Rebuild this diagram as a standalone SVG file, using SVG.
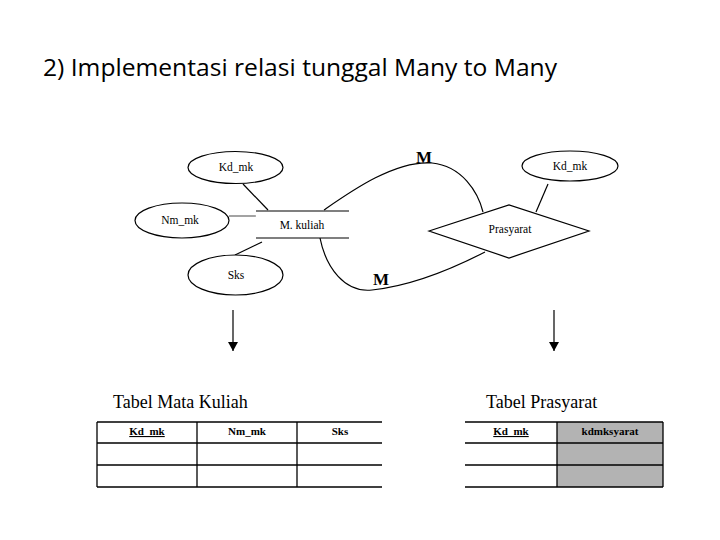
<svg xmlns="http://www.w3.org/2000/svg" width="720" height="540" viewBox="0 0 720 540">
<style>
.ln{stroke:#000;stroke-width:1.2;fill:none}
.el{stroke:#000;stroke-width:1.2;fill:#fff}
.t{font-family:"Liberation Serif","DejaVu Serif",serif;font-size:11.5px;fill:#000;text-anchor:middle}
.m{font-family:"Liberation Serif","DejaVu Serif",serif;font-size:17px;font-weight:bold;fill:#000;text-anchor:middle}
.tt{font-family:"Liberation Serif","DejaVu Serif",serif;font-size:18px;fill:#000}
.h{font-family:"Liberation Serif","DejaVu Serif",serif;font-size:11px;font-weight:bold;fill:#000;text-anchor:middle}
.tb{stroke:#000;stroke-width:1.3;fill:none}
</style>
<defs>
<marker id="ah" markerWidth="10" markerHeight="10" refX="9" refY="5" orient="auto" markerUnits="userSpaceOnUse">
<path d="M0,0 L9,5 L0,10 Z" fill="#000"/>
</marker>
</defs>
<rect width="720" height="540" fill="#fff"/>
<text x="43" y="76" font-family="'Open Sans','Noto Sans',sans-serif" font-size="24" fill="#000" textLength="514" lengthAdjust="spacingAndGlyphs">2) Implementasi relasi tunggal Many to Many</text>

<g id="connectors">
<line class="ln" x1="243" y1="184" x2="268" y2="210"/>
<line x1="229" y1="216" x2="256" y2="216" stroke="#666" stroke-width="1.2"/>
<line class="ln" x1="262" y1="242" x2="235" y2="255"/>
<line class="ln" x1="548" y1="184" x2="536" y2="212"/>
<path class="ln" d="M324,210 C350,192 395,160 432,163 C462,166 478,192 483,212"/>
<path class="ln" d="M320,238 C326,268 345,293 372,290 C410,286 450,270 485,252"/>
<line class="ln" x1="233" y1="310" x2="233" y2="351" marker-end="url(#ah)"/>
<line class="ln" x1="554" y1="310" x2="554" y2="351" marker-end="url(#ah)"/>
</g>

<g id="m1"><text class="m" x="424" y="163">M</text></g>
<g id="m2"><text class="m" x="381" y="285">M</text></g>

<g id="attr-kdmk1">
<ellipse class="el" cx="235.5" cy="167.5" rx="47.5" ry="16"/>
<text class="t" x="236" y="171">Kd_mk</text>
</g>
<g id="attr-nmmk">
<ellipse class="el" cx="182" cy="220.5" rx="47" ry="17.5"/>
<text class="t" x="180" y="224">Nm_mk</text>
</g>
<g id="attr-sks">
<ellipse class="el" cx="235.5" cy="275" rx="47.5" ry="20"/>
<text class="t" x="236" y="279">Sks</text>
</g>
<g id="entity-mkuliah">
<line class="ln" x1="256" y1="211" x2="349" y2="211"/>
<line class="ln" x1="256" y1="238" x2="349" y2="238"/>
<text class="t" x="302" y="229">M. kuliah</text>
</g>
<g id="attr-kdmk2">
<ellipse class="el" cx="570" cy="166" rx="48" ry="15"/>
<text class="t" x="570" y="170">Kd_mk</text>
</g>
<g id="rel-prasyarat">
<polygon class="el" points="429,231 509,205 589,231 509,258"/>
<text class="t" x="510" y="233">Prasyarat</text>
</g>

<g id="tabel-matakuliah">
<text class="tt" x="113" y="408">Tabel Mata Kuliah</text>
<line class="tb" x1="97" y1="422" x2="382" y2="422"/>
<line class="tb" x1="97" y1="443" x2="382" y2="443"/>
<line class="tb" x1="97" y1="465" x2="382" y2="465"/>
<line class="tb" x1="97" y1="487" x2="382" y2="487"/>
<line class="tb" x1="97" y1="422" x2="97" y2="487"/>
<line class="tb" x1="197" y1="422" x2="197" y2="487"/>
<line class="tb" x1="297" y1="422" x2="297" y2="487"/>
<text class="h" x="147" y="435" text-decoration="underline">Kd_mk</text>
<text class="h" x="247" y="435">Nm_mk</text>
<text class="h" x="340" y="435">Sks</text>
</g>

<g id="tabel-prasyarat">
<text class="tt" x="486" y="408">Tabel Prasyarat</text>
<rect x="557" y="422" width="106" height="65" fill="#b3b3b3"/>
<line class="tb" x1="465" y1="422" x2="663" y2="422"/>
<line class="tb" x1="465" y1="443" x2="663" y2="443"/>
<line class="tb" x1="465" y1="465" x2="663" y2="465"/>
<line class="tb" x1="465" y1="487" x2="663" y2="487"/>
<line class="tb" x1="557" y1="422" x2="557" y2="487"/>
<line class="tb" x1="663" y1="422" x2="663" y2="487"/>
<text class="h" x="511" y="435" text-decoration="underline">Kd_mk</text>
<text class="h" x="610" y="435">kdmksyarat</text>
</g>
</svg>
